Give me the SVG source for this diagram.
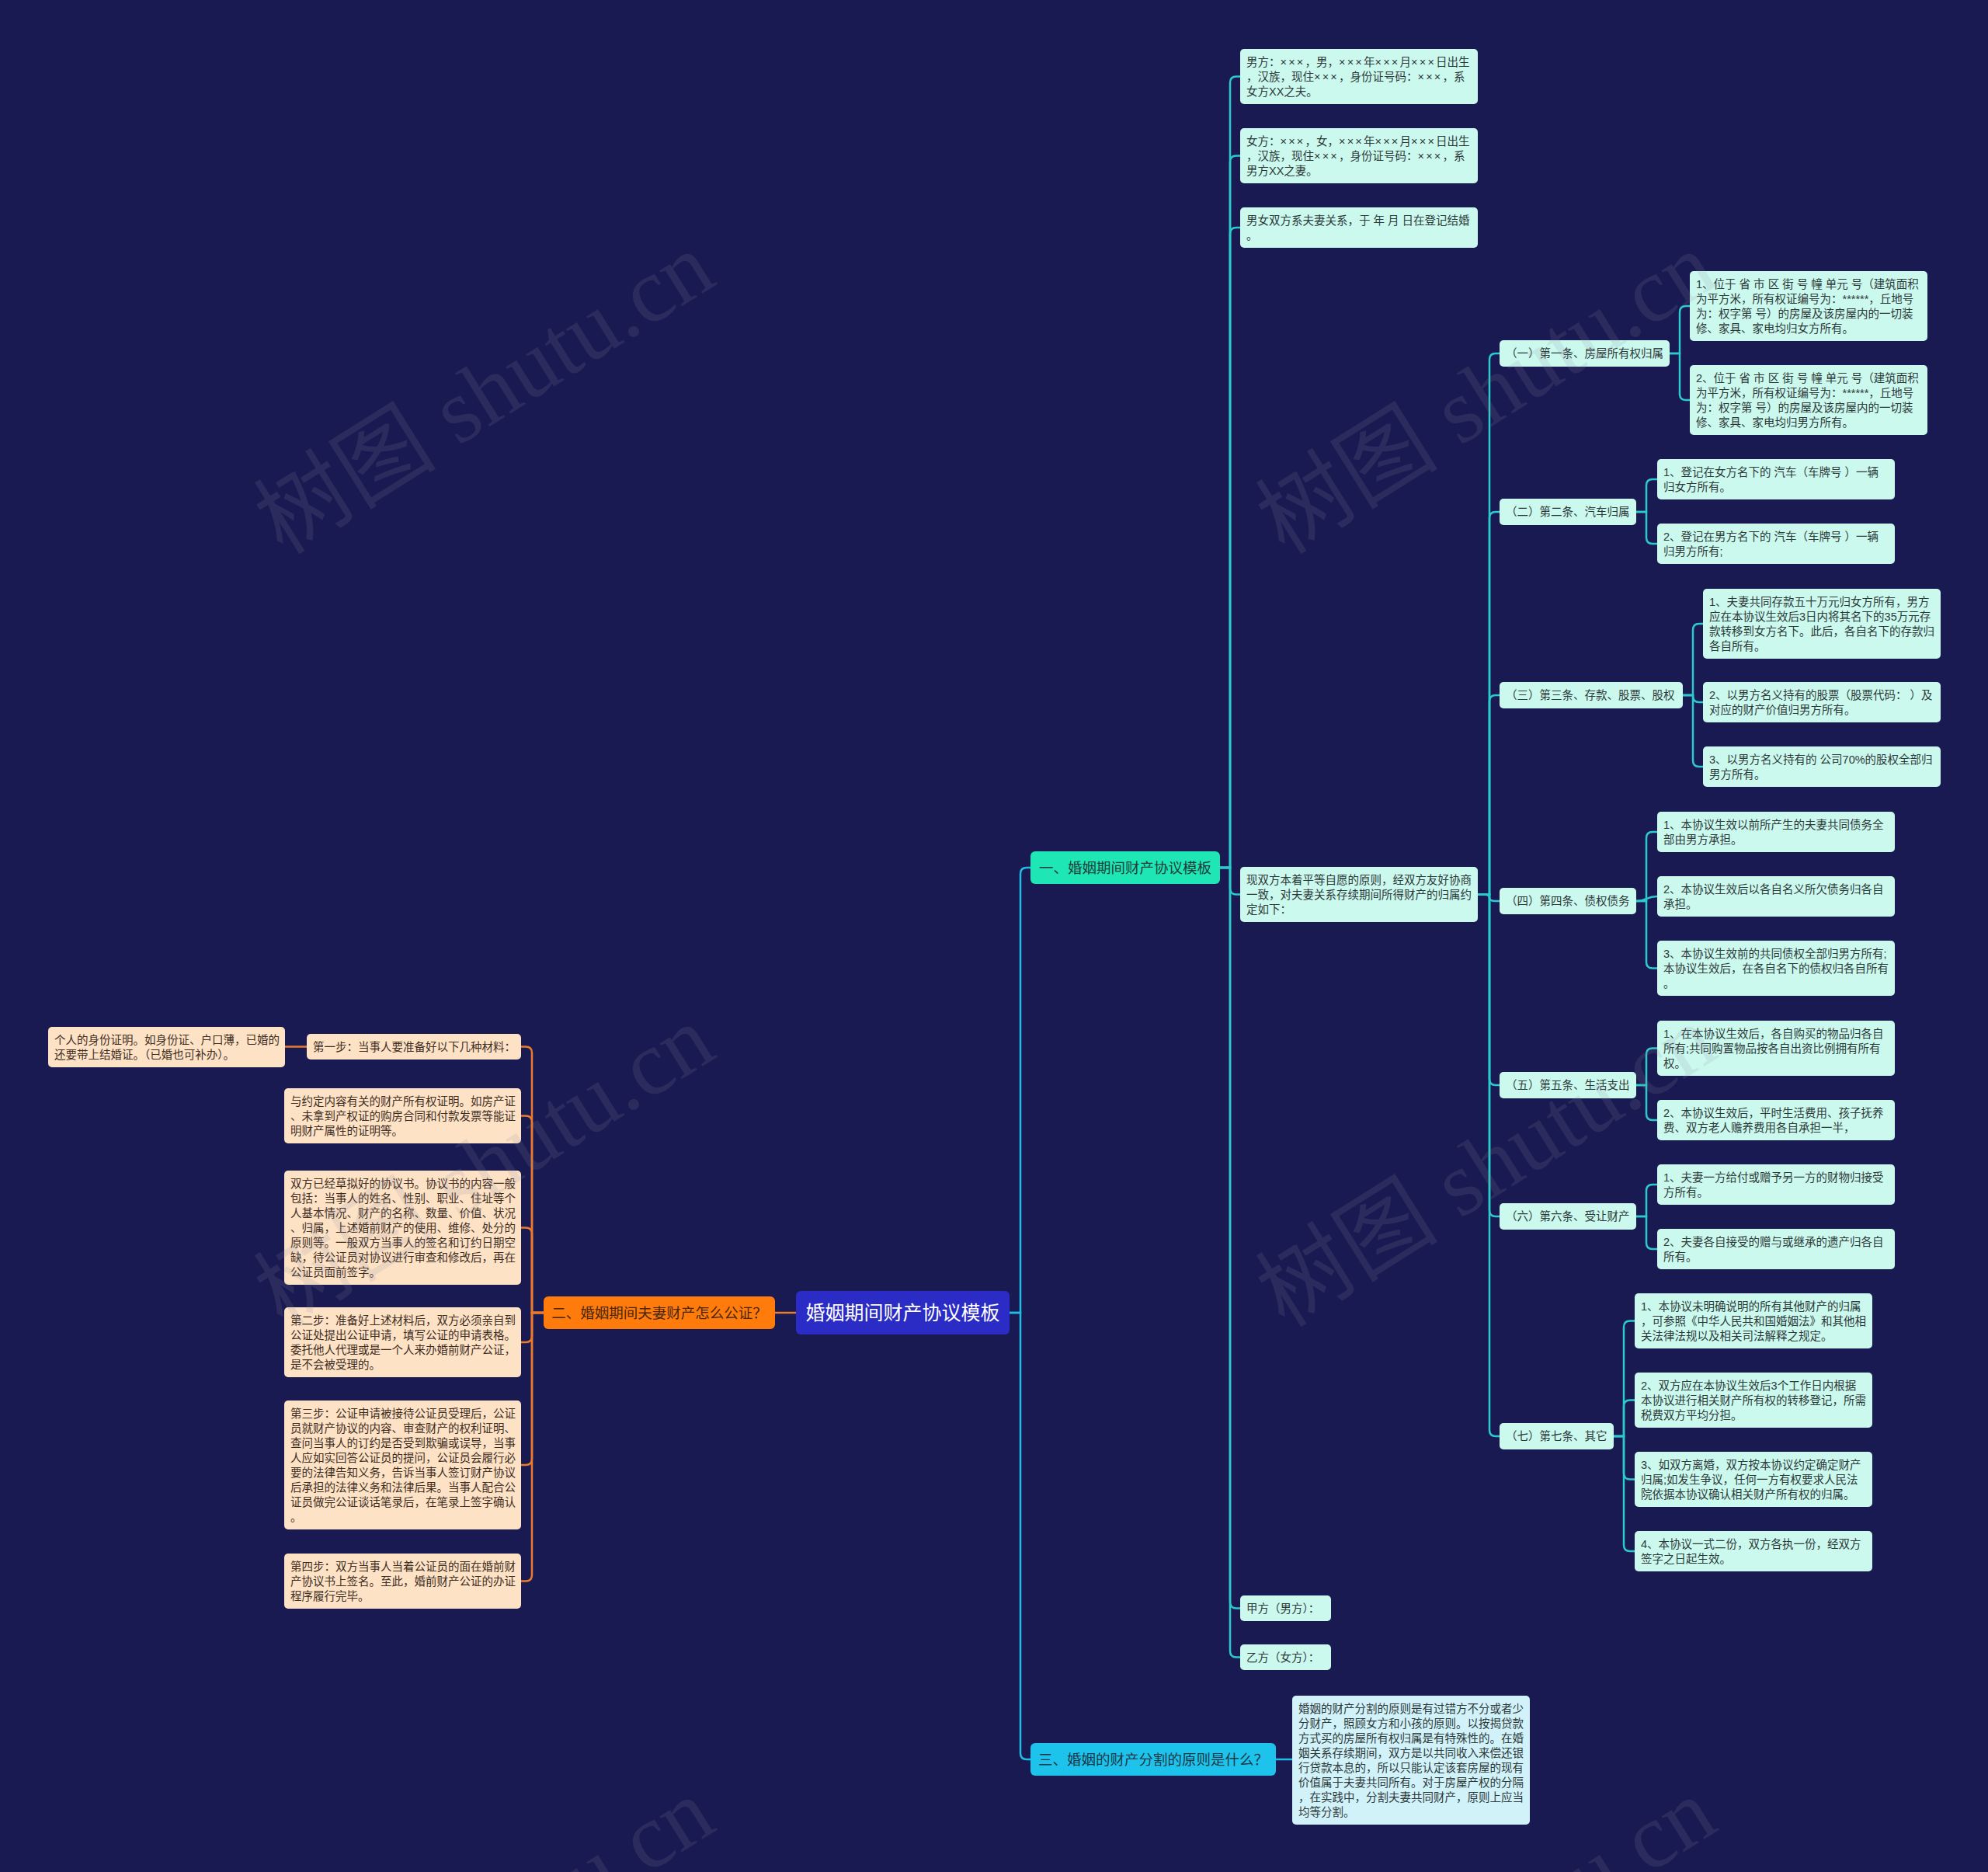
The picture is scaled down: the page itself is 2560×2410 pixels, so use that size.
<svg xmlns="http://www.w3.org/2000/svg" width="2560" height="2410" viewBox="0 0 2560 2410">
<style>
.t{font-family:"Liberation Sans","Noto Sans CJK SC",sans-serif;font-size:14.5px;fill:#2c3838}
.x{letter-spacing:2.2px}
.tl{fill:#3e2d1e}
.lr{fill:#cbf9ee}
.lb{fill:#d2f2fa}
.ll{fill:#fde2c6}
.c{fill:none;stroke-width:2.5;stroke-linecap:round}
.cr{stroke:#2ccaca}
.cb{stroke:#22bde4}
.cl{stroke:#ea7a2c}
.h1{font-family:"Noto Sans CJK SC","Liberation Sans",sans-serif;font-size:18.5px;text-anchor:middle}
.wm{font-family:"Liberation Serif","Noto Sans CJK SC",serif;font-size:118px;fill:#8a8aa0;opacity:0.15}
</style>
<rect x="0" y="0" width="2560" height="2410" fill="#1a1a52"/>

<g id="connectors">
<path class="c cb" d="M1300,1690 H1314 V1125 Q1314,1117 1322,1117 H1327"/>
<path class="c cb" d="M1300,1690 H1314 V2257 Q1314,2265 1322,2265 H1327"/>
<path class="c cb" d="M1643,2265 H1664"/>
<path class="c cr" d="M1571,1117 H1584 V106.5 Q1584,98.5 1592,98.5 H1597"/>
<path class="c cr" d="M1571,1117 H1584 V208.5 Q1584,200.5 1592,200.5 H1597"/>
<path class="c cr" d="M1571,1117 H1584 V301 Q1584,293 1592,293 H1597"/>
<path class="c cr" d="M1571,1117 H1584 V1143.5 Q1584,1151.5 1592,1151.5 H1597"/>
<path class="c cr" d="M1571,1117 H1584 V2062.5 Q1584,2070.5 1592,2070.5 H1597"/>
<path class="c cr" d="M1571,1117 H1584 V2125.5 Q1584,2133.5 1592,2133.5 H1597"/>
<path class="c cr" d="M1904,1151.5 H1918 V463 Q1918,455 1926,455 H1931"/>
<path class="c cr" d="M1904,1151.5 H1918 V667 Q1918,659 1926,659 H1931"/>
<path class="c cr" d="M1904,1151.5 H1918 V903 Q1918,895 1926,895 H1931"/>
<path class="c cr" d="M1904,1151.5 H1910 Q1918,1151.5 1918,1156 Q1918,1160 1926,1160 H1931"/>
<path class="c cr" d="M1904,1151.5 H1918 V1389 Q1918,1397 1926,1397 H1931"/>
<path class="c cr" d="M1904,1151.5 H1918 V1558 Q1918,1566 1926,1566 H1931"/>
<path class="c cr" d="M1904,1151.5 H1918 V1841 Q1918,1849 1926,1849 H1931"/>
<path class="c cr" d="M2150,455 H2163 V402 Q2163,394 2171,394 H2176"/>
<path class="c cr" d="M2150,455 H2163 V507 Q2163,515 2171,515 H2176"/>
<path class="c cr" d="M2107,659 H2120 V625 Q2120,617 2128,617 H2134"/>
<path class="c cr" d="M2107,659 H2120 V692 Q2120,700 2128,700 H2134"/>
<path class="c cr" d="M2167,895 H2180 V811 Q2180,803 2188,803 H2193"/>
<path class="c cr" d="M2167,895 H2180 V896 Q2180,904 2188,904 H2193"/>
<path class="c cr" d="M2167,895 H2180 V979 Q2180,987 2188,987 H2193"/>
<path class="c cr" d="M2107,1160 H2120 V1079 Q2120,1071 2128,1071 H2134"/>
<path class="c cr" d="M2107,1160 C2120,1160 2120,1154 2134,1154"/>
<path class="c cr" d="M2107,1160 H2120 V1238.5 Q2120,1246.5 2128,1246.5 H2134"/>
<path class="c cr" d="M2107,1397 H2120 V1357.5 Q2120,1349.5 2128,1349.5 H2134"/>
<path class="c cr" d="M2107,1397 H2120 V1434 Q2120,1442 2128,1442 H2134"/>
<path class="c cr" d="M2107,1566 H2120 V1533 Q2120,1525 2128,1525 H2134"/>
<path class="c cr" d="M2107,1566 H2120 V1600 Q2120,1608 2128,1608 H2134"/>
<path class="c cr" d="M2078,1849 H2091 V1708.5 Q2091,1700.5 2099,1700.5 H2105"/>
<path class="c cr" d="M2078,1849 H2091 V1810.5 Q2091,1802.5 2099,1802.5 H2105"/>
<path class="c cr" d="M2078,1849 H2091 V1896.5 Q2091,1904.5 2099,1904.5 H2105"/>
<path class="c cr" d="M2078,1849 H2091 V1989 Q2091,1997 2099,1997 H2105"/>
<path class="c cl" d="M1025,1690 H998"/>
<path class="c cl" d="M700,1690 H685 V1355.5 Q685,1347.5 677,1347.5 H671"/>
<path class="c cl" d="M700,1690 H685 V1444.5 Q685,1436.5 677,1436.5 H671"/>
<path class="c cl" d="M700,1690 H685 V1588.5 Q685,1580.5 677,1580.5 H671"/>
<path class="c cl" d="M700,1690 H685 V1720 Q685,1728 677,1728 H671"/>
<path class="c cl" d="M700,1690 H685 V1878 Q685,1886 677,1886 H671"/>
<path class="c cl" d="M700,1690 H685 V2027.5 Q685,2035.5 677,2035.5 H671"/>
<path class="c cl" d="M395,1347.5 H367"/>
</g>

<g id="root">
<rect x="1025" y="1662" width="275" height="56" rx="6" fill="#2b2cc6"/>
<text x="1162.5" y="1699" font-family="Noto Sans CJK SC, Liberation Sans, sans-serif" font-size="25" fill="#ffffff" text-anchor="middle">婚姻期间财产协议模板</text>
</g>

<g id="n1">
<rect x="1327" y="1096" width="244" height="42" rx="6" fill="#1fe6b5"/>
<text class="h1" x="1449" y="1123.5" fill="#1e3d3a">一、婚姻期间财产协议模板</text>
</g>
<g id="n2">
<rect x="700" y="1669" width="298" height="42" rx="6" fill="#ff7c0c"/>
<text class="h1" x="849" y="1696.5" fill="#4a2608">二、婚姻期间夫妻财产怎么公证？</text>
</g>
<g id="n3">
<rect x="1327" y="2244" width="316" height="42" rx="6" fill="#1ec3ec"/>
<text class="h1" x="1485" y="2271.5" fill="#183848">三、婚姻的财产分割的原则是什么？</text>
</g>

<g id="n1-1"><rect class="lr" x="1597" y="63" width="306" height="71" rx="5"/>
<text class="t"><tspan x="1605" y="84.5">男方：<tspan class="x">×××</tspan>，男，<tspan class="x">×××</tspan>年<tspan class="x">×××</tspan>月<tspan class="x">×××</tspan>日出生</tspan><tspan x="1605" y="103.5">，汉族，现住<tspan class="x">×××</tspan>，身份证号码：<tspan class="x">×××</tspan>，系</tspan><tspan x="1605" y="122.5">女方XX之夫。</tspan></text></g>
<g id="n1-2"><rect class="lr" x="1597" y="165" width="306" height="71" rx="5"/>
<text class="t"><tspan x="1605" y="186.5">女方：<tspan class="x">×××</tspan>，女，<tspan class="x">×××</tspan>年<tspan class="x">×××</tspan>月<tspan class="x">×××</tspan>日出生</tspan><tspan x="1605" y="205.5">，汉族，现住<tspan class="x">×××</tspan>，身份证号码：<tspan class="x">×××</tspan>，系</tspan><tspan x="1605" y="224.5">男方XX之妻。</tspan></text></g>
<g id="n1-3"><rect class="lr" x="1597" y="267" width="306" height="52" rx="5"/>
<text class="t"><tspan x="1605" y="288.5">男女双方系夫妻关系，于 年 月 日在登记结婚</tspan><tspan x="1605" y="307.5">。</tspan></text></g>
<g id="n1-4"><rect class="lr" x="1597" y="1116" width="306" height="71" rx="5"/>
<text class="t"><tspan x="1605" y="1137.5">现双方本着平等自愿的原则，经双方友好协商</tspan><tspan x="1605" y="1156.5">一致，对夫妻关系存续期间所得财产的归属约</tspan><tspan x="1605" y="1175.5">定如下：</tspan></text></g>
<g id="n1-5"><rect class="lr" x="1597" y="2054" width="117" height="33" rx="5"/>
<text class="t"><tspan x="1605" y="2075.5">甲方（男方）：</tspan></text></g>
<g id="n1-6"><rect class="lr" x="1597" y="2117" width="117" height="33" rx="5"/>
<text class="t"><tspan x="1605" y="2138.5">乙方（女方）：</tspan></text></g>

<g id="a1"><rect class="lr" x="1931" y="438" width="219" height="34" rx="5"/>
<text class="t"><tspan x="1939" y="460">（一）第一条、房屋所有权归属</tspan></text></g>
<g id="a2"><rect class="lr" x="1931" y="642" width="176" height="34" rx="5"/>
<text class="t"><tspan x="1939" y="664">（二）第二条、汽车归属</tspan></text></g>
<g id="a3"><rect class="lr" x="1931" y="878" width="236" height="34" rx="5"/>
<text class="t"><tspan x="1939" y="900">（三）第三条、存款、股票、股权</tspan></text></g>
<g id="a4"><rect class="lr" x="1931" y="1143" width="176" height="34" rx="5"/>
<text class="t"><tspan x="1939" y="1165">（四）第四条、债权债务</tspan></text></g>
<g id="a5"><rect class="lr" x="1931" y="1380" width="176" height="34" rx="5"/>
<text class="t"><tspan x="1939" y="1402">（五）第五条、生活支出</tspan></text></g>
<g id="a6"><rect class="lr" x="1931" y="1549" width="176" height="34" rx="5"/>
<text class="t"><tspan x="1939" y="1571">（六）第六条、受让财产</tspan></text></g>
<g id="a7"><rect class="lr" x="1931" y="1832" width="147" height="34" rx="5"/>
<text class="t"><tspan x="1939" y="1854">（七）第七条、其它</tspan></text></g>

<g id="a1-1"><rect class="lr" x="2176" y="349" width="306" height="90" rx="5"/>
<text class="t"><tspan x="2184" y="370.5">1、位于 省 市 区 街 号 幢 单元 号（建筑面积</tspan><tspan x="2184" y="389.5">为平方米，所有权证编号为：******，丘地号</tspan><tspan x="2184" y="408.5">为：权字第 号）的房屋及该房屋内的一切装</tspan><tspan x="2184" y="427.5">修、家具、家电均归女方所有。</tspan></text></g>
<g id="a1-2"><rect class="lr" x="2176" y="470" width="306" height="90" rx="5"/>
<text class="t"><tspan x="2184" y="491.5">2、位于 省 市 区 街 号 幢 单元 号（建筑面积</tspan><tspan x="2184" y="510.5">为平方米，所有权证编号为：******，丘地号</tspan><tspan x="2184" y="529.5">为：权字第 号）的房屋及该房屋内的一切装</tspan><tspan x="2184" y="548.5">修、家具、家电均归男方所有。</tspan></text></g>

<g id="a2-1"><rect class="lr" x="2134" y="591" width="306" height="52" rx="5"/>
<text class="t"><tspan x="2142" y="612.5">1、登记在女方名下的 汽车（车牌号 ）一辆</tspan><tspan x="2142" y="631.5">归女方所有。</tspan></text></g>
<g id="a2-2"><rect class="lr" x="2134" y="674" width="306" height="52" rx="5"/>
<text class="t"><tspan x="2142" y="695.5">2、登记在男方名下的 汽车（车牌号 ）一辆</tspan><tspan x="2142" y="714.5">归男方所有;</tspan></text></g>

<g id="a3-1"><rect class="lr" x="2193" y="758" width="306" height="90" rx="5"/>
<text class="t"><tspan x="2201" y="779.5">1、夫妻共同存款五十万元归女方所有，男方</tspan><tspan x="2201" y="798.5">应在本协议生效后3日内将其名下的35万元存</tspan><tspan x="2201" y="817.5">款转移到女方名下。此后，各自名下的存款归</tspan><tspan x="2201" y="836.5">各自所有。</tspan></text></g>
<g id="a3-2"><rect class="lr" x="2193" y="878" width="306" height="52" rx="5"/>
<text class="t"><tspan x="2201" y="899.5">2、以男方名义持有的股票（股票代码：  ）及</tspan><tspan x="2201" y="918.5">对应的财产价值归男方所有。</tspan></text></g>
<g id="a3-3"><rect class="lr" x="2193" y="961" width="306" height="52" rx="5"/>
<text class="t"><tspan x="2201" y="982.5">3、以男方名义持有的 公司70%的股权全部归</tspan><tspan x="2201" y="1001.5">男方所有。</tspan></text></g>

<g id="a4-1"><rect class="lr" x="2134" y="1045" width="306" height="52" rx="5"/>
<text class="t"><tspan x="2142" y="1066.5">1、本协议生效以前所产生的夫妻共同债务全</tspan><tspan x="2142" y="1085.5">部由男方承担。</tspan></text></g>
<g id="a4-2"><rect class="lr" x="2134" y="1128" width="306" height="52" rx="5"/>
<text class="t"><tspan x="2142" y="1149.5">2、本协议生效后以各自名义所欠债务归各自</tspan><tspan x="2142" y="1168.5">承担。</tspan></text></g>
<g id="a4-3"><rect class="lr" x="2134" y="1211" width="306" height="71" rx="5"/>
<text class="t"><tspan x="2142" y="1232.5">3、本协议生效前的共同债权全部归男方所有;</tspan><tspan x="2142" y="1251.5">本协议生效后，在各自名下的债权归各自所有</tspan><tspan x="2142" y="1270.5">。</tspan></text></g>

<g id="a5-1"><rect class="lr" x="2134" y="1314" width="306" height="71" rx="5"/>
<text class="t"><tspan x="2142" y="1335.5">1、在本协议生效后，各自购买的物品归各自</tspan><tspan x="2142" y="1354.5">所有;共同购置物品按各自出资比例拥有所有</tspan><tspan x="2142" y="1373.5">权。</tspan></text></g>
<g id="a5-2"><rect class="lr" x="2134" y="1416" width="306" height="52" rx="5"/>
<text class="t"><tspan x="2142" y="1437.5">2、本协议生效后，平时生活费用、孩子抚养</tspan><tspan x="2142" y="1456.5">费、双方老人赡养费用各自承担一半，</tspan></text></g>

<g id="a6-1"><rect class="lr" x="2134" y="1499" width="306" height="52" rx="5"/>
<text class="t"><tspan x="2142" y="1520.5">1、夫妻一方给付或赠予另一方的财物归接受</tspan><tspan x="2142" y="1539.5">方所有。</tspan></text></g>
<g id="a6-2"><rect class="lr" x="2134" y="1582" width="306" height="52" rx="5"/>
<text class="t"><tspan x="2142" y="1603.5">2、夫妻各自接受的赠与或继承的遗产归各自</tspan><tspan x="2142" y="1622.5">所有。</tspan></text></g>

<g id="a7-1"><rect class="lr" x="2105" y="1665" width="306" height="71" rx="5"/>
<text class="t"><tspan x="2113" y="1686.5">1、本协议未明确说明的所有其他财产的归属</tspan><tspan x="2113" y="1705.5">，可参照《中华人民共和国婚姻法》和其他相</tspan><tspan x="2113" y="1724.5">关法律法规以及相关司法解释之规定。</tspan></text></g>
<g id="a7-2"><rect class="lr" x="2105" y="1767" width="306" height="71" rx="5"/>
<text class="t"><tspan x="2113" y="1788.5">2、双方应在本协议生效后3个工作日内根据</tspan><tspan x="2113" y="1807.5">本协议进行相关财产所有权的转移登记，所需</tspan><tspan x="2113" y="1826.5">税费双方平均分担。</tspan></text></g>
<g id="a7-3"><rect class="lr" x="2105" y="1869" width="306" height="71" rx="5"/>
<text class="t"><tspan x="2113" y="1890.5">3、如双方离婚，双方按本协议约定确定财产</tspan><tspan x="2113" y="1909.5">归属;如发生争议，任何一方有权要求人民法</tspan><tspan x="2113" y="1928.5">院依据本协议确认相关财产所有权的归属。</tspan></text></g>
<g id="a7-4"><rect class="lr" x="2105" y="1971" width="306" height="52" rx="5"/>
<text class="t"><tspan x="2113" y="1992.5">4、本协议一式二份，双方各执一份，经双方</tspan><tspan x="2113" y="2011.5">签字之日起生效。</tspan></text></g>

<g id="n3-1"><rect class="lb" x="1664" y="2183" width="306" height="166" rx="5"/>
<text class="t"><tspan x="1672" y="2204.5">婚姻的财产分割的原则是有过错方不分或者少</tspan><tspan x="1672" y="2223.5">分财产，照顾女方和小孩的原则。以按揭贷款</tspan><tspan x="1672" y="2242.5">方式买的房屋所有权归属是有特殊性的。在婚</tspan><tspan x="1672" y="2261.5">姻关系存续期间，双方是以共同收入来偿还银</tspan><tspan x="1672" y="2280.5">行贷款本息的，所以只能认定该套房屋的现有</tspan><tspan x="1672" y="2299.5">价值属于夫妻共同所有。对于房屋产权的分隔</tspan><tspan x="1672" y="2318.5">，在实践中，分割夫妻共同财产，原则上应当</tspan><tspan x="1672" y="2337.5">均等分割。</tspan></text></g>

<g id="n2-1"><rect class="ll" x="395" y="1331" width="276" height="33" rx="5"/>
<text class="t tl"><tspan x="403" y="1352.5">第一步：当事人要准备好以下几种材料：</tspan></text></g>
<g id="n2-1-1"><rect class="ll" x="62" y="1322" width="305" height="52" rx="5"/>
<text class="t tl"><tspan x="70" y="1343.5">个人的身份证明。如身份证、户口薄，已婚的</tspan><tspan x="70" y="1362.5">还要带上结婚证。（已婚也可补办）。</tspan></text></g>
<g id="n2-2"><rect class="ll" x="366" y="1401" width="305" height="71" rx="5"/>
<text class="t tl"><tspan x="374" y="1422.5">与约定内容有关的财产所有权证明。如房产证</tspan><tspan x="374" y="1441.5">、未拿到产权证的购房合同和付款发票等能证</tspan><tspan x="374" y="1460.5">明财产属性的证明等。</tspan></text></g>
<g id="n2-3"><rect class="ll" x="366" y="1507" width="305" height="147" rx="5"/>
<text class="t tl"><tspan x="374" y="1528.5">双方已经草拟好的协议书。协议书的内容一般</tspan><tspan x="374" y="1547.5">包括：当事人的姓名、性别、职业、住址等个</tspan><tspan x="374" y="1566.5">人基本情况、财产的名称、数量、价值、状况</tspan><tspan x="374" y="1585.5">、归属，上述婚前财产的使用、维修、处分的</tspan><tspan x="374" y="1604.5">原则等。一般双方当事人的签名和订约日期空</tspan><tspan x="374" y="1623.5">缺，待公证员对协议进行审查和修改后，再在</tspan><tspan x="374" y="1642.5">公证员面前签字。</tspan></text></g>
<g id="n2-4"><rect class="ll" x="366" y="1683" width="305" height="90" rx="5"/>
<text class="t tl"><tspan x="374" y="1704.5">第二步：准备好上述材料后，双方必须亲自到</tspan><tspan x="374" y="1723.5">公证处提出公证申请，填写公证的申请表格。</tspan><tspan x="374" y="1742.5">委托他人代理或是一个人来办婚前财产公证，</tspan><tspan x="374" y="1761.5">是不会被受理的。</tspan></text></g>
<g id="n2-5"><rect class="ll" x="366" y="1803" width="305" height="166" rx="5"/>
<text class="t tl"><tspan x="374" y="1824.5">第三步：公证申请被接待公证员受理后，公证</tspan><tspan x="374" y="1843.5">员就财产协议的内容、审查财产的权利证明、</tspan><tspan x="374" y="1862.5">查问当事人的订约是否受到欺骗或误导，当事</tspan><tspan x="374" y="1881.5">人应如实回答公证员的提问，公证员会履行必</tspan><tspan x="374" y="1900.5">要的法律告知义务，告诉当事人签订财产协议</tspan><tspan x="374" y="1919.5">后承担的法律义务和法律后果。当事人配合公</tspan><tspan x="374" y="1938.5">证员做完公证谈话笔录后，在笔录上签字确认</tspan><tspan x="374" y="1957.5">。</tspan></text></g>
<g id="n2-6"><rect class="ll" x="366" y="2000" width="305" height="71" rx="5"/>
<text class="t tl"><tspan x="374" y="2021.5">第四步：双方当事人当着公证员的面在婚前财</tspan><tspan x="374" y="2040.5">产协议书上签名。至此，婚前财产公证的办证</tspan><tspan x="374" y="2059.5">程序履行完毕。</tspan></text></g>

<g id="watermark">
<text class="wm" transform="translate(645,540) rotate(-32)" text-anchor="middle">树图 shutu.cn</text>
<text class="wm" transform="translate(1935,540) rotate(-32)" text-anchor="middle">树图 shutu.cn</text>
<text class="wm" transform="translate(645,1535) rotate(-32)" text-anchor="middle">树图 shutu.cn</text>
<text class="wm" transform="translate(1935,1535) rotate(-32)" text-anchor="middle">树图 shutu.cn</text>
<text class="wm" transform="translate(645,2530) rotate(-32)" text-anchor="middle">树图 shutu.cn</text>
<text class="wm" transform="translate(1935,2530) rotate(-32)" text-anchor="middle">树图 shutu.cn</text>
</g>
</svg>
